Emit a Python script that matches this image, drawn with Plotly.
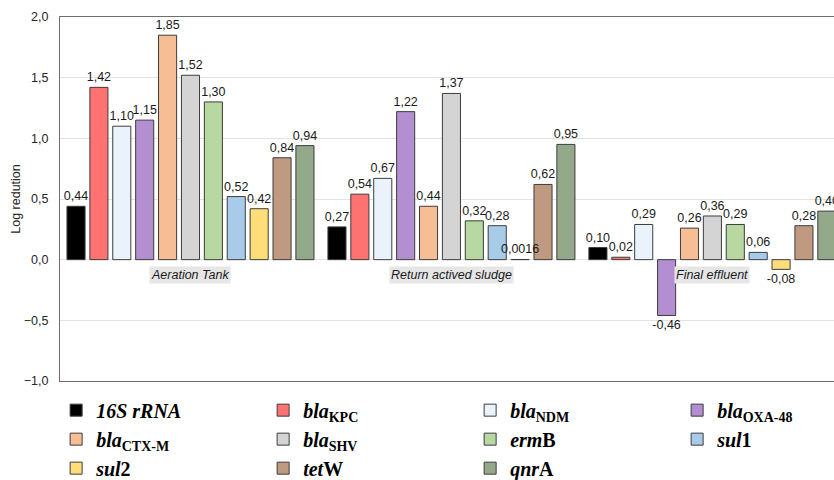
import plotly.graph_objects as go

# ---- data ----
categories = ["Aeration Tank", "Return actived sludge", "Final effluent"]

gene_names = [
    "<b><i>16S rRNA</i></b>",
    "<b><i>bla</i><sub>KPC</sub></b>",
    "<b><i>bla</i><sub>NDM</sub></b>",
    "<b><i>bla</i><sub>OXA-48</sub></b>",
    "<b><i>bla</i><sub>CTX-M</sub></b>",
    "<b><i>bla</i><sub>SHV</sub></b>",
    "<b><i>erm</i>B</b>",
    "<b><i>sul</i>1</b>",
    "<b><i>sul</i>2</b>",
    "<b><i>tet</i>W</b>",
    "<b><i>qnr</i>A</b>",
]

rRNA16S = [0.44, 0.27, 0.10]
blaKPC = [1.42, 0.54, 0.02]
blaNDM = [1.10, 0.67, 0.29]
blaOXA48 = [1.15, 1.22, -0.46]
blaCTXM = [1.85, 0.44, 0.26]
blaSHV = [1.52, 1.37, 0.36]
ermB = [1.30, 0.32, 0.29]
sul1 = [0.52, 0.28, 0.06]
sul2 = [0.42, 0.0016, -0.08]
tetW = [0.84, 0.62, 0.28]
qnrA = [0.94, 0.95, 0.40]

series = [rRNA16S, blaKPC, blaNDM, blaOXA48, blaCTXM, blaSHV, ermB, sul1, sul2, tetW, qnrA]

colors = [
    "#000000", "#FF7272", "#EAF3FC", "#B38ED0", "#F7BD94", "#D4D4D4",
    "#B7D8A0", "#A9CBEA", "#FFDE7A", "#C09A80", "#93A98A",
]

y_ticks = [-1.0, -0.5, 0.0, 0.5, 1.0, 1.5, 2.0]


def fmt(v):
    s = f"{v:.2f}" if abs(v) >= 0.01 else f"{v:.4f}"
    return s.replace(".", ",")


fig = go.Figure()
# coloured bars
for name, vals, col in zip(gene_names, series, colors):
    fig.add_trace(go.Bar(
        x=categories, y=vals, name=name,
        marker=dict(color=col, line=dict(color="#3c3c3c", width=1)),
        cliponaxis=True,
    ))
# value labels on an overlaid axis so they sit above every bar
for name, vals in zip(gene_names, series):
    fig.add_trace(go.Bar(
        x=categories, y=vals, name=name, xaxis="x2", showlegend=False,
        marker=dict(color="rgba(0,0,0,0)", line=dict(width=0)),
        text=[fmt(v) for v in vals], textposition="outside",
        textfont=dict(family="Liberation Sans", size=12.5, color="#1a1a1a"),
        constraintext="none", cliponaxis=True, hoverinfo="skip",
    ))

for c in categories:
    fig.add_annotation(
        x=c, y=0, xref="x", yref="y", text=f"<i>{c}</i>", showarrow=False,
        yanchor="middle", yshift=-15, bgcolor="#e6e6e6",
        font=dict(family="Liberation Sans", size=12.5, color="#1a1a1a"),
        borderpad=1,
    )

x_range = [-0.5, 2.466]

fig.update_layout(
    width=834, height=480,
    margin=dict(l=60, r=0, t=17, b=99, autoexpand=False),
    paper_bgcolor="white", plot_bgcolor="white",
    barmode="group", bargap=0.035, bargroupgap=0.21,
    separators=",.",
    font=dict(family="Liberation Sans", size=12, color="#262626"),
    showlegend=True,
    legend=dict(
        orientation="h", x=-0.005, xanchor="left", y=-0.0265, yanchor="top",
        entrywidth=162, traceorder="normal",
        font=dict(family="Liberation Serif", size=20, color="#000000"),
        bgcolor="rgba(0,0,0,0)", tracegroupgap=0,
    ),
    xaxis=dict(
        type="category", range=x_range, showticklabels=False,
        showline=True, mirror=True, linecolor="#6e6e6e", linewidth=1,
        showgrid=False, ticks="",
    ),
    xaxis2=dict(
        type="category", range=x_range, overlaying="x", visible=False,
        showgrid=False, zeroline=False,
    ),
    yaxis=dict(
        range=[-1.0, 2.0], tickvals=y_ticks, tickformat=".1f",
        showline=True, linecolor="#6e6e6e", linewidth=1,
        showgrid=True, gridcolor="#e3e3e3", gridwidth=1,
        zeroline=True, zerolinecolor="#e3e3e3", zerolinewidth=1,
        ticks="", ticklabelstandoff=8,
        title=dict(text="Log redution", standoff=0,
                   font=dict(family="Liberation Sans", size=12.5, color="#262626")),
        tickfont=dict(family="Liberation Sans", size=12.5, color="#262626"),
    ),
)

fig.write_html(
    "out.html",
    config={"displayModeBar": False},
    post_script="document.body.style.margin='0';document.body.style.overflow='hidden';",
)
